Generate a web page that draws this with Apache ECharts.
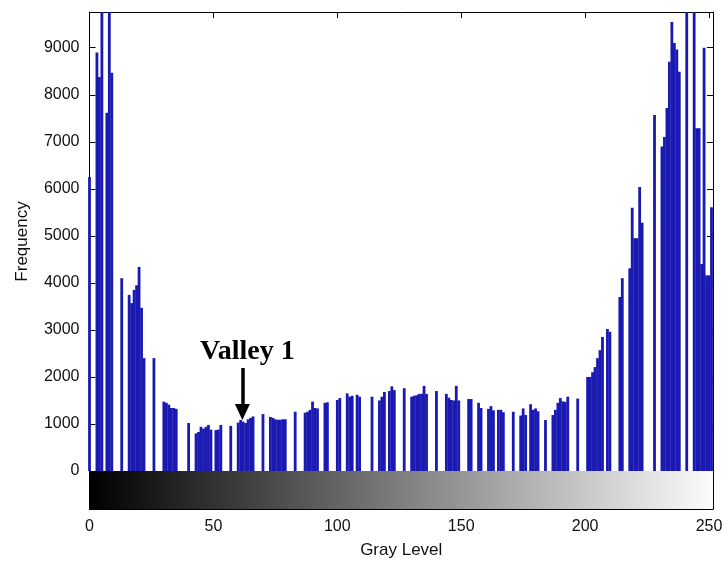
<!DOCTYPE html>
<html><head><meta charset="utf-8">
<script src="https://cdn.jsdelivr.net/npm/echarts@6/dist/echarts.min.js"></script>
<style>html,body{margin:0;padding:0;background:#fff}#c{width:722px;height:565px}</style>
</head><body><div id="c"></div>
<script>
// Frequency per gray level (0..255)
const counts = [
  6250,0,0,8900,8380,11000,0,7620,11000,8470,      // 0-9
  0,0,0,4100,0,0,3745,3570,3850,3950,              // 10-19
  4340,3470,2400,0,0,0,2400,0,0,0,                 // 20-29
  1475,1450,1410,1340,1340,1320,0,0,0,0,           // 30-39
  1020,0,0,800,830,940,900,940,980,880,            // 40-49
  0,870,880,980,0,0,0,960,0,0,                     // 50-59
  1030,1085,1050,1020,1100,1130,1160,0,0,0,        // 60-69
  1210,0,0,1150,1130,1100,1090,1090,1100,1100,     // 70-79
  0,0,0,1260,0,0,0,1240,1260,1300,                 // 80-89
  1475,1340,1330,0,0,1450,1460,0,0,0,              // 90-99
  1510,1550,0,0,1650,1580,1600,0,1620,1580,        // 100-109
  0,0,0,0,1580,0,0,1500,1580,1680,                 // 110-119
  0,1700,1800,1720,0,0,0,1760,0,0,                 // 120-129
  1580,1600,1610,1640,1640,1810,1640,0,0,0,        // 130-139
  1700,0,0,0,1640,1560,1510,1500,1810,1500,        // 140-149
  0,0,0,1530,1530,0,0,1450,1340,0,                 // 150-159
  0,1320,1380,1290,0,1300,1300,1250,0,0,           // 160-169
  0,1260,0,0,1180,1330,1190,0,1420,1300,           // 170-179
  1330,1270,0,0,1085,0,0,1190,1300,1450,           // 180-189
  1550,1480,1470,1580,0,0,0,1540,0,0,              // 190-199
  0,2000,2000,2100,2210,2400,2570,2850,0,3020,     // 200-209
  2960,0,0,0,3700,4100,0,0,4310,5600,              // 210-219
  4950,4950,6040,5280,0,0,0,0,7570,0,              // 220-229
  0,6900,7100,7720,8700,9550,9100,8960,8490,0,     // 230-239
  0,11000,0,0,11000,7290,7290,4400,9000,4160,      // 240-249
  4160,5610,0,0,0,0                                // 250-255
];
const grayLevels = counts.map((c, i) => i);
const xTickLabels = [0, 50, 100, 150, 200, 250];
const yTickLabels = [0, 1000, 2000, 3000, 4000, 5000, 6000, 7000, 8000, 9000];
const xAxisTitle = 'Gray Level';
const yAxisTitle = 'Frequency';
const annotationText = 'Valley 1';
const valleyArrow = [[61.7, 2190], [61.7, 1255]];

const X_MAX = 251.6, Y_MAX = 9760;
const chart = echarts.init(document.getElementById('c'), null, {renderer: 'canvas'});
const black = '#000';
const lblFont = {fontFamily: 'Liberation Sans, Arial, sans-serif', fontSize: 16, color: '#111'};
const xFmt = v => (xTickLabels.indexOf(v) >= 0 ? String(v) : '');
const yFmt = v => (yTickLabels.indexOf(v) >= 0 ? String(v) : '');

chart.setOption({
  animation: false,
  backgroundColor: '#fff',
  grid: [
    {left: 89.5, right: 9, top: 12, height: 459, containLabel: false, outerBoundsMode: 'none'},
    {left: 89.5, right: 9, top: 471, height: 38, containLabel: false, outerBoundsMode: 'none'}
  ],
  xAxis: [
    {gridIndex: 0, type: 'value', min: 0, max: X_MAX, interval: 50, position: 'bottom',
     axisLine: {show: false}, axisTick: {show: true, inside: false, length: 7, lineStyle: {color: black}},
     axisLabel: {show: false}, splitLine: {show: false}},
    {gridIndex: 0, type: 'value', min: 0, max: X_MAX, interval: 50, position: 'top',
     axisLine: {show: true, onZero: false, lineStyle: {color: black, width: 1}},
     axisTick: {show: true, inside: true, length: 6, lineStyle: {color: black}},
     axisLabel: {show: false}, splitLine: {show: false}},
    {gridIndex: 1, type: 'value', min: 0, max: X_MAX, interval: 50, position: 'bottom',
     axisLine: {show: true, onZero: false, lineStyle: {color: black, width: 1}},
     axisTick: {show: true, inside: true, length: 7, lineStyle: {color: black}},
     axisLabel: Object.assign({formatter: xFmt, margin: 10}, lblFont),
     splitLine: {show: false},
     name: xAxisTitle, nameLocation: 'middle', nameGap: 33,
     nameTextStyle: {fontFamily: 'Liberation Sans, Arial, sans-serif', fontSize: 17, color: '#111'}}
  ],
  yAxis: [
    {gridIndex: 0, type: 'value', min: 0, max: Y_MAX, interval: 1000, position: 'left',
     axisLine: {show: true, onZero: false, lineStyle: {color: black, width: 1}},
     axisTick: {show: true, inside: true, length: 6, lineStyle: {color: black}},
     axisLabel: Object.assign({formatter: yFmt, margin: 10}, lblFont),
     splitLine: {show: false},
     name: yAxisTitle, nameLocation: 'middle', nameGap: 59, nameRotate: 90,
     nameTextStyle: {fontFamily: 'Liberation Sans, Arial, sans-serif', fontSize: 17, color: '#111'}},
    {gridIndex: 0, type: 'value', min: 0, max: Y_MAX, interval: 1000, position: 'right',
     axisLine: {show: true, onZero: false, lineStyle: {color: black, width: 1}},
     axisTick: {show: true, inside: true, length: 6, lineStyle: {color: black}},
     axisLabel: {show: false}, splitLine: {show: false}},
    {gridIndex: 1, type: 'value', min: 0, max: 1, position: 'left',
     axisLine: {show: true, onZero: false, lineStyle: {color: black, width: 1}},
     axisTick: {show: false}, axisLabel: {show: false}, splitLine: {show: false}},
    {gridIndex: 1, type: 'value', min: 0, max: 1, position: 'right',
     axisLine: {show: true, onZero: false, lineStyle: {color: black, width: 1}},
     axisTick: {show: false}, axisLabel: {show: false}, splitLine: {show: false}}
  ],
  series: [
    {
      type: 'bar', xAxisIndex: 0, yAxisIndex: 0,
      data: grayLevels.map((g, i) => [g, counts[i]]),
      barWidth: 2.8, clip: true,
      itemStyle: {color: '#1a1ab2'},
      silent: true,
      markLine: {
        silent: true, animation: false,
        symbol: ['none', 'triangle'], symbolSize: [15, 16],
        lineStyle: {color: black, width: 3.5, type: 'solid'},
        label: {show: false},
        data: [[{coord: valleyArrow[0]}, {coord: valleyArrow[1]}]]
      }
    },
    {
      type: 'line', xAxisIndex: 2, yAxisIndex: 2,
      data: [[0, 0]], symbol: 'none', lineStyle: {opacity: 0}, silent: true, z: 1,
      markArea: {
        silent: true,
        itemStyle: {
          color: new echarts.graphic.LinearGradient(0, 0, 1, 0, [
            {offset: 0, color: '#000000'},
            {offset: 1, color: '#fcfcfc'}
          ])
        },
        data: [[{coord: [0, 0]}, {coord: [X_MAX, 1]}]]
      }
    }
  ],
  graphic: [{
    type: 'text', left: 200, top: 338, silent: true,
    style: {text: annotationText, font: 'bold 28px "Liberation Serif", "Times New Roman", serif', fill: '#000'}
  }]
});
</script></body></html>
